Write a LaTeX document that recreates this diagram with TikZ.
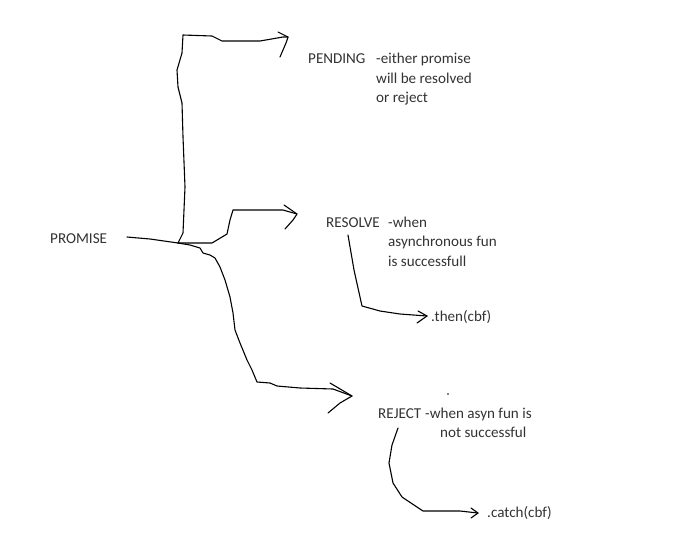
\documentclass[tikz,border=0pt]{standalone}
\usepackage{fontspec}
\setmainfont{Carlito}
\usetikzlibrary{arrows.meta}

\begin{document}
\begin{tikzpicture}[x=1pt,y=-1pt,
txt/.style={anchor=base west, inner sep=0pt, text=black!80, font=\fontsize{15.1}{19.5}\selectfont},
pen/.style={line width=1.1pt, line join=round, line cap=round}
]
\useasboundingbox (0,0) rectangle (687,552);
\fill[white] (0,0) rectangle (687,552);

% states
\node[txt] (promise) at (50,243.5) {PROMISE};
\node[txt] (pending) at (308,63) {PENDING};
\node[txt] (pendA) at (376,63) {-either promise};
\node[txt] (pendB) at (376,83) {will be resolved};
\node[txt] (pendC) at (376,102.5) {or reject};
\node[txt] (resolve) at (326,227) {RESOLVE};
\node[txt] (resA) at (388,227) {-when};
\node[txt] (resB) at (388,246.5) {asynchronous fun};
\node[txt] (resC) at (388,266) {is successfull};
\node[txt] (then) at (431,321) {.then(cbf)};
\node[txt] (reject) at (378,418) {REJECT};
\node[txt] (rejA) at (425,418) {-when asyn fun is};
\node[txt] (rejB) at (440,437.5) {not successful};
\node[txt] (catch) at (487,517) {.catch(cbf)};

\coordinate (tail) at (127,237);
\coordinate (junc) at (178,243);
\coordinate (pendtip) at (288,37);
\coordinate (restip) at (297,214);
\coordinate (rejtip) at (352,396);
\coordinate (thentip) at (427,316);
\coordinate (catchtip) at (478,513);

% branches
\draw[pen] (tail) -- (150,239) -- (junc);
\draw[pen] (junc) -- (183,233) -- (185,187) -- (183,137) -- (182,103) -- (178,87)
  -- (177,70) -- (182,53) -- (183,35) -- (212,36) -- (222,41) -- (260,41) -- (283,37) -- (pendtip);
\draw[pen] (278,32) -- (pendtip) -- (286,43) -- (280,57);
\draw[pen] (junc) -- (212,243) -- (227,234) -- (230,220) -- (233,210) -- (283,210) -- (restip);
\draw[pen] (284,205) -- (restip) -- (293,220) -- (285,229);
\draw[pen] (junc) -- (190,245) -- (200,248) -- (203,253) -- (210,255) -- (215,258) -- (220,267)
  -- (225,280) -- (230,297) -- (233,313) -- (235,330) -- (240,343) -- (247,360) -- (252,370)
  -- (257,382) -- (270,383) -- (277,386) -- (300,388) -- (333,389) -- (rejtip);
\draw[pen] (330,383) -- (rejtip) -- (340,403) -- (328,413);

% callbacks
\draw[pen] (348,235) -- (354,270) -- (362,306) -- (380,311) -- (400,314) -- (thentip);
\draw[pen] (418,311) -- (thentip) -- (417,323);
\draw[pen] (398,428) -- (392,445) -- (389,463) -- (393,483) -- (402,497) -- (423,511) -- (460,511) -- (catchtip);
\draw[pen] (471,508) -- (catchtip) -- (471,518);

\fill (448,394) circle (0.8);
\end{tikzpicture}
\end{document}
